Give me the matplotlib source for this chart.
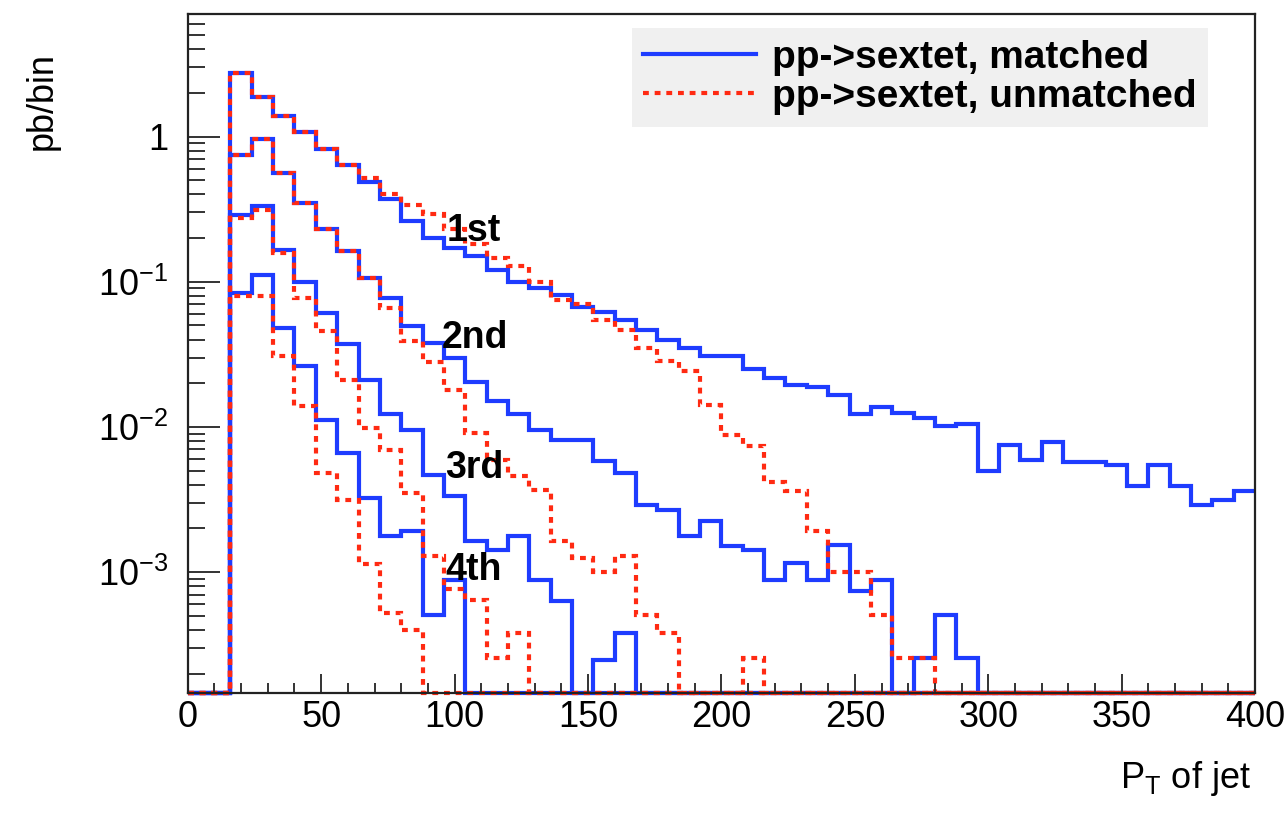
import numpy as np
import matplotlib
matplotlib.use('Agg')
import matplotlib.pyplot as plt
from matplotlib.ticker import LogLocator, FixedLocator, MultipleLocator, FuncFormatter

plt.rcParams['font.family'] = ['Liberation Sans', 'DejaVu Sans']
plt.rcParams['mathtext.fontset'] = 'custom'
plt.rcParams['mathtext.rm'] = 'Liberation Sans'
plt.rcParams['mathtext.it'] = 'Liberation Sans:italic'
plt.rcParams['mathtext.bf'] = 'Liberation Sans:bold'

# 50 bins of 8 GeV from 0 to 400
edges = np.arange(0, 401, 8)

# jet pT spectra in pb/bin, bin 0 .. 49 (0 = empty bin)
matched_1st = [0, 0, 2.73, 1.88, 1.39, 1.07, 0.82, 0.64, 0.49, 0.371,
               0.26, 0.20, 0.17, 0.151, 0.121, 0.100, 0.0905, 0.0813, 0.067, 0.0618,
               0.0542, 0.0462, 0.0399, 0.035, 0.031, 0.031, 0.0251, 0.0219, 0.0195, 0.0188,
               0.0165, 0.0122, 0.0137, 0.0125, 0.0115, 0.0102, 0.0105, 0.00495, 0.00755, 0.00596,
               0.00784, 0.00571, 0.00575, 0.0055, 0.0039, 0.00544, 0.0039, 0.00292, 0.00316, 0.00365]
unmatched_1st = [0, 0, 2.73, 1.88, 1.39, 1.07, 0.82, 0.64, 0.52, 0.40,
                 0.34, 0.294, 0.23, 0.183, 0.146, 0.129, 0.0995, 0.075, 0.0706, 0.0548,
                 0.0462, 0.035, 0.0285, 0.0241, 0.01425, 0.00885, 0.00736, 0.0042, 0.0036, 0.00191,
                 0.00101, 0.00101, 0.00051, 0.000257, 0.000257, 0, 0, 0, 0, 0,
                 0, 0, 0, 0, 0, 0, 0, 0, 0, 0]
matched_2nd = [0, 0, 0.748, 0.96, 0.565, 0.348, 0.231, 0.162, 0.106, 0.0772,
               0.0492, 0.0378, 0.0298, 0.0203, 0.0150, 0.0122, 0.00958, 0.00818, 0.00818, 0.0058,
               0.00482, 0.00292, 0.0027, 0.00177, 0.00224, 0.00151, 0.00143, 0.00089, 0.00116, 0.00089,
               0.00155, 0.00074, 0.00089, 0, 0.000257, 0.00051, 0.000257, 0, 0, 0,
               0, 0, 0, 0, 0, 0, 0, 0, 0, 0]
unmatched_2nd = [0, 0, 0.748, 0.96, 0.565, 0.348, 0.231, 0.162, 0.106, 0.0659,
                 0.0388, 0.0279, 0.018, 0.0091, 0.0059, 0.00457, 0.0037, 0.00163, 0.00125, 0.00101,
                 0.00129, 0.00051, 0.000382, 0, 0, 0, 0.000257, 0, 0, 0,
                 0, 0, 0, 0, 0, 0, 0, 0, 0, 0,
                 0, 0, 0, 0, 0, 0, 0, 0, 0, 0]
matched_3rd = [0, 0, 0.289, 0.33, 0.166, 0.100, 0.0609, 0.037, 0.0212, 0.0122,
               0.0096, 0.0047, 0.00333, 0.00163, 0.00143, 0.00177, 0.00089, 0.00063, 0, 0.000247,
               0.000382] + [0] * 29
unmatched_3rd = [0, 0, 0.274, 0.313, 0.157, 0.077, 0.046, 0.0212, 0.00984, 0.00698,
                 0.00351, 0.0013, 0.00077, 0.00064, 0.000257, 0.000382] + [0] * 34
matched_4th = [0, 0, 0.0836, 0.112, 0.048, 0.0261, 0.0112, 0.00662, 0.00325, 0.00177,
               0.00191, 0.00051, 0.00089] + [0] * 37
unmatched_4th = [0, 0, 0.0792, 0.0792, 0.031, 0.0139, 0.00482, 0.00316, 0.00113, 0.000525,
                 0.0004] + [0] * 39

matched = [matched_1st, matched_2nd, matched_3rd, matched_4th]
unmatched = [unmatched_1st, unmatched_2nd, unmatched_3rd, unmatched_4th]

# jet labels: (text, x, y)
jet_labels = [('1st', 97, 0.191), ('2nd', 95, 0.0351),
              ('3rd', 96.5, 0.00446), ('4th', 96.5, 0.00089)]

ymin, ymax = 1.48e-4, 7.0
blue = '#1e3cff'
red = '#ff2a12'

fig = plt.figure(figsize=(12.86, 8.13), dpi=100)
ax = fig.add_axes([0.146, 0.148, 0.830, 0.835])

# empty bins sit on the bottom of the frame like in ROOT
for v in matched:
    v = np.asarray(v, dtype=float)
    ax.stairs(np.where(v > 0, v, ymin), edges, baseline=None,
              color=blue, lw=3.0, clip_on=False)
for v in unmatched:
    v = np.asarray(v, dtype=float)
    ax.stairs(np.where(v > 0, v, ymin), edges, baseline=None,
              color=red, lw=3.0, ls=(0, (1.4, 1.4)), clip_on=False)

for txt, x, y in jet_labels:
    ax.text(x, y, txt, fontsize=27, fontweight='bold', ha='left', va='baseline')

ax.set_yscale('log')
ax.set_xlim(0, 400)
ax.set_ylim(ymin, ymax)

ax.xaxis.set_major_locator(MultipleLocator(50))
ax.xaxis.set_minor_locator(MultipleLocator(10))
ax.yaxis.set_major_locator(FixedLocator([1e-3, 1e-2, 1e-1, 1]))
ax.yaxis.set_minor_locator(LogLocator(base=10, subs=np.arange(2, 10), numticks=20))


def ylab(v, pos):
    if abs(v - 1) < 1e-9:
        return '1'
    return r'$\mathregular{10^{%d}}$' % int(round(np.log10(v)))


ax.yaxis.set_major_formatter(FuncFormatter(ylab))
ax.yaxis.set_minor_formatter(FuncFormatter(lambda v, p: ''))

ax.tick_params(axis='both', which='both', direction='in', color='#333333', width=1.4,
               labelsize=26)
ax.tick_params(axis='y', which='major', length=23, pad=14)
ax.tick_params(axis='y', which='minor', length=12)
ax.tick_params(axis='x', which='major', length=14, pad=5)
ax.tick_params(axis='x', which='minor', length=7)
for s in ax.spines.values():
    s.set_linewidth(1.6)
    s.set_color('#222222')

fig.text(0.033, 0.936, 'pb/bin', rotation=90, ha='center', va='top', fontsize=26)
fig.text(0.973, 0.018, r'$\mathregular{P_T}$ of jet', ha='right', va='bottom', fontsize=26)

h1, = ax.plot([], [], color=blue, lw=3.0)
h2, = ax.plot([], [], color=red, lw=3.0, ls=(0, (1.4, 1.4)))
leg = ax.legend([h1, h2], ['pp->sextet, matched', 'pp->sextet, unmatched'],
                loc='upper left', bbox_to_anchor=(0.416, 0.979), borderaxespad=0,
                frameon=True, fancybox=False, facecolor='#f0f0f0', edgecolor='none',
                framealpha=1, handlelength=2.9, handletextpad=0.4, labelspacing=0.08,
                borderpad=0.3, prop={'size': 28, 'weight': 'bold'})

fig.savefig('out.png', dpi=100)
